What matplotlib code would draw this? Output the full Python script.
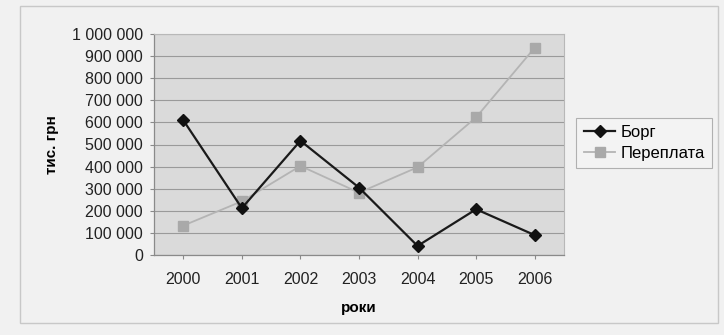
import matplotlib
matplotlib.use("Agg")
import matplotlib.pyplot as plt
from matplotlib.patches import Rectangle
from matplotlib.ticker import FuncFormatter

years = ["2000", "2001", "2002", "2003", "2004", "2005", "2006"]
borg = [610000, 212000, 517000, 305000, 41000, 207000, 90000]
pereplata = [133000, 243000, 403000, 282000, 397000, 623000, 938000]

plt.rcParams['font.family'] = ['Liberation Sans', 'DejaVu Sans']

fig = plt.figure(figsize=(7.24, 3.35), dpi=100, facecolor="#f1f1f1")
ax = fig.add_axes([154 / 724, 80 / 335, 410 / 724, 221 / 335])
ax.set_facecolor("#dadada")

# outer chart border
fig.patches.append(Rectangle((20 / 724, 12 / 335), 698 / 724, 317 / 335,
                             transform=fig.transFigure, fill=False,
                             edgecolor="#c8c8c8", linewidth=1.0))

x = list(range(len(years)))
ax.plot(x, borg, color="#1a1a1a", linewidth=1.6, marker="D",
        markersize=6, markerfacecolor="#111111", markeredgecolor="#111111",
        label="Борг", zorder=4)
ax.plot(x, pereplata, color="#b4b4b4", linewidth=1.3, marker="s",
        markersize=7, markerfacecolor="#a9a9a9", markeredgecolor="#a9a9a9",
        label="Переплата", zorder=3)

ax.set_xlim(-0.5, len(years) - 0.5)
ax.set_ylim(0, 1000000)
ax.set_yticks(range(0, 1000001, 100000))
ax.yaxis.set_major_formatter(
    FuncFormatter(lambda v, p: "{:,}".format(int(v)).replace(",", " ")))
ax.set_xticks(x)
ax.set_xticklabels(years)

ax.grid(axis="y", color="#9a9a9a", linewidth=0.8)
ax.set_axisbelow(True)
for side in ["top", "right"]:
    ax.spines[side].set_color("#b8b8b8")
    ax.spines[side].set_linewidth(0.8)
for side in ["left", "bottom"]:
    ax.spines[side].set_color("#8a8a8a")
    ax.spines[side].set_linewidth(0.9)

ax.tick_params(axis="y", length=3, pad=5, labelsize=11.5,
               color="#8a8a8a", labelcolor="#222222")
ax.tick_params(axis="x", length=3, pad=9, labelsize=11.5,
               color="#8a8a8a", labelcolor="#222222")

ax.set_ylabel("тис. грн", fontsize=11, fontweight="bold", labelpad=9)
ax.set_xlabel("роки", fontsize=11, fontweight="bold", labelpad=10)

leg = ax.legend(loc="center left", bbox_to_anchor=(1.03, 0.507),
                frameon=True, fancybox=False, fontsize=12,
                handlelength=1.9, handletextpad=0.3, borderpad=0.45,
                borderaxespad=0.0, labelspacing=0.35)
leg.get_frame().set_edgecolor("#a0a0a0")
leg.get_frame().set_facecolor("#f4f4f4")
leg.get_frame().set_linewidth(0.8)

plt.savefig("out.png", dpi=100, facecolor=fig.get_facecolor())
